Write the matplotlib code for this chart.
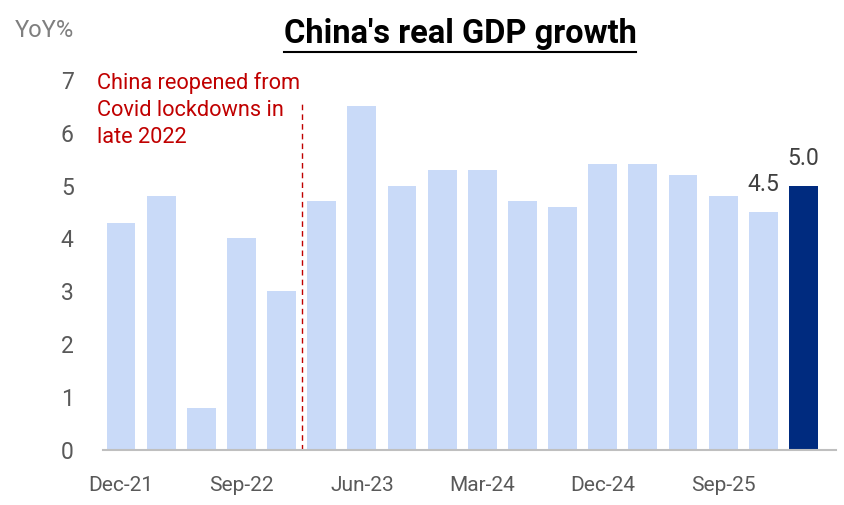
import matplotlib
matplotlib.use("Agg")
import matplotlib.pyplot as plt
from matplotlib.lines import Line2D

quarters = ["Dec-21", "Mar-22", "Jun-22", "Sep-22", "Dec-22", "Mar-23", "Jun-23", "Sep-23",
            "Dec-23", "Mar-24", "Jun-24", "Sep-24", "Dec-24", "Mar-25", "Jun-25", "Sep-25",
            "Dec-25", "Mar-26"]
growth = [4.3, 4.8, 0.8, 4.0, 3.0, 4.7, 6.5, 5.0, 5.3, 5.3, 4.7, 4.6, 5.4, 5.4, 5.2, 4.8, 4.5, 5.0]
shown_ticks = ["Dec-21", "Sep-22", "Jun-23", "Mar-24", "Dec-24", "Sep-25"]
labelled = {"Dec-25": "4.5", "Mar-26": "5.0"}
reopen_after = "Dec-22"

plt.rcParams["font.family"] = ["Roboto", "DejaVu Sans"]

fig = plt.figure(figsize=(8.44, 5.05), dpi=100)
ax = fig.add_axes([0.122, 0.109, 0.868, 0.733])

x = list(range(len(quarters)))
colors = ["#C9DAF8"] * (len(quarters) - 1) + ["#002B7F"]
ax.bar(x, growth, width=0.72, color=colors)

for q, lab in labelled.items():
    i = quarters.index(q)
    ax.text(i, growth[i] + 0.3, lab, ha="center", va="bottom", fontsize=16.5, color="#404040")

xr = quarters.index(reopen_after) + 0.5
ax.plot([xr, xr], [0, 6.6], color="#C00000", lw=1, ls=(0, (4, 3)))
ax.text(-0.6, 7.15, "China reopened from\nCovid lockdowns in\nlate 2022", ha="left", va="top",
        fontsize=15.7, color="#C00000", linespacing=1.38)

ax.set_xlim(-0.45, 17.8)
ax.set_ylim(0, 7)
ax.set_yticks(range(0, 8))
ax.set_xticks([quarters.index(t) for t in shown_ticks])
ax.set_xticklabels(shown_ticks)
for s in ["top", "right", "left"]:
    ax.spines[s].set_visible(False)
ax.spines["bottom"].set_color("#BFBFBF")
ax.spines["bottom"].set_linewidth(1.5)
ax.tick_params(axis="y", length=0, labelsize=16.5, labelcolor="#595959", pad=21)
ax.tick_params(axis="x", length=0, labelsize=15, labelcolor="#595959", pad=19)

fig.text(0.018, 0.94, "YoY%", fontsize=17, color="#7F7F7F", ha="left", va="center")
t = fig.text(0.545, 0.932, "China's real GDP growth", fontsize=23.5, fontweight="bold",
             color="black", ha="center", va="center")
fig.canvas.draw()
bb = t.get_window_extent().transformed(fig.transFigure.inverted())
fig.add_artist(Line2D([bb.x0, bb.x1], [bb.y0 - 0.004, bb.y0 - 0.004], transform=fig.transFigure,
                      color="black", lw=1.5))

fig.savefig("out.png", dpi=100)
